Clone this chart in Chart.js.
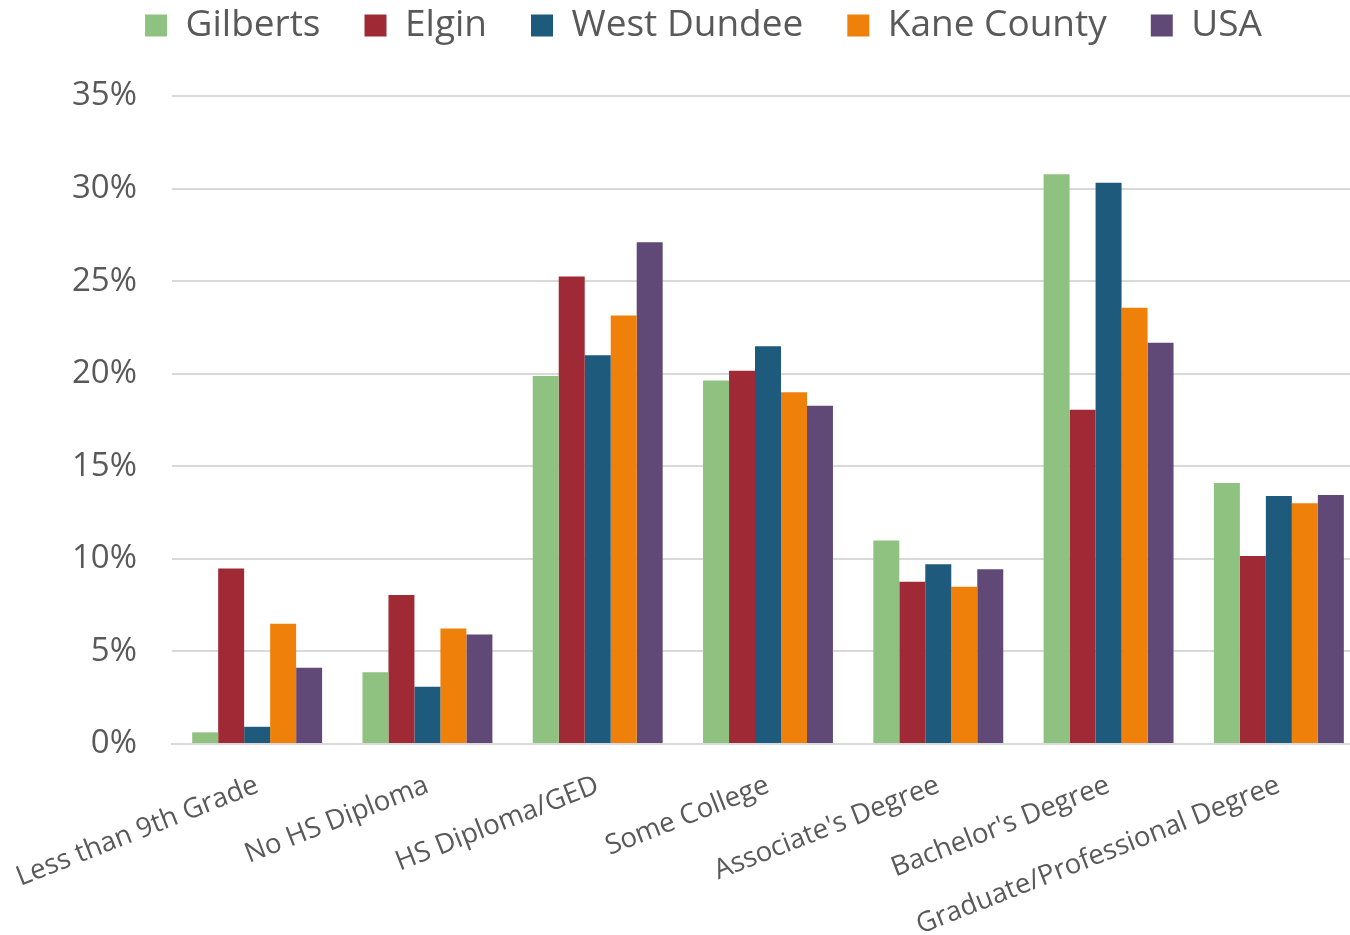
<!DOCTYPE html>
<html>
<head>
<meta charset="utf-8">
<script src="https://cdn.jsdelivr.net/npm/chart.js@4"></script>
<style>
  html, body { margin: 0; padding: 0; background: #fff; overflow: hidden; }
  .chart-box { position: relative; width: 1369px; height: 972px; margin-top: -37px; }
</style>
</head>
<body>
<div class="chart-box"><canvas class="my-chart"></canvas></div>
<script>
const categories = ['Less than 9th Grade', 'No HS Diploma', 'HS Diploma/GED', 'Some College',
  "Associate's Degree", "Bachelor's Degree", 'Graduate/Professional Degree'];

// percentages
const gilberts = [0.63, 3.87, 19.87, 19.64, 10.99, 30.78, 14.1];
const elgin = [9.48, 8.05, 25.25, 20.16, 8.76, 18.06, 10.15];
const westDundee = [0.93, 3.09, 21.0, 21.49, 9.71, 30.31, 13.4];
const kaneCounty = [6.5, 6.24, 23.15, 19.0, 8.5, 23.56, 13.0];
const usa = [4.12, 5.92, 27.1, 18.27, 9.44, 21.67, 13.45];

const seriesNames = ['Gilberts', 'Elgin', 'West Dundee', 'Kane County', 'USA'];
const seriesColors = ['#8FC180', '#A02936', '#1E5A7B', '#EF810B', '#614977'];

const yTicks = [0, 5, 10, 15, 20, 25, 30, 35];

const textColor = '#595959';
const gridColor = '#D9D9D9';

// legend keeps its own row spacing, so give it a fixed height above the plot
const legendHeight = {
  id: 'legendHeight',
  beforeInit(chart) {
    const fit = chart.legend.fit;
    chart.legend.fit = function () {
      fit.bind(chart.legend)();
      this.height = 133;
    };
  },
};

let canvas = document.querySelector('.my-chart');

let config = {
  type: 'bar',
  data: {
    labels: categories,
    datasets: [gilberts, elgin, westDundee, kaneCounty, usa].map((values, i) => ({
      label: seriesNames[i],
      data: values,
      backgroundColor: seriesColors[i],
      borderWidth: 0,
      categoryPercentage: 0.763,
      barPercentage: 1.0,
    })),
  },
  options: {
    responsive: true,
    maintainAspectRatio: false,
    animation: false,
    layout: {
      padding: { left: 43, right: 5, top: 0, bottom: 0 },
    },
    plugins: {
      tooltip: { enabled: false },
      legend: {
        position: 'top',
        labels: {
          color: textColor,
          font: { family: 'Open Sans', size: 37 },
          boxWidth: 22,
          boxHeight: 22,
          padding: 44,
        },
      },
    },
    scales: {
      x: {
        grid: { display: false },
        border: { color: gridColor, width: 2 },
        afterFit: (axis) => {
          axis.height = 191;
          axis.paddingLeft = 0;
          axis.paddingRight = 0;
        },
        ticks: {
          color: textColor,
          font: { family: 'Open Sans', size: 27.5 },
          maxRotation: 21.5,
          minRotation: 21.5,
          padding: 17,
          autoSkip: false,
        },
      },
      y: {
        min: 0,
        max: 35,
        afterBuildTicks: (axis) => {
          axis.ticks = yTicks.map(v => ({ value: v }));
        },
        afterFit: (axis) => { axis.width = 129; },
        grid: {
          color: gridColor,
          lineWidth: 2,
          drawTicks: false,
        },
        border: { display: false },
        ticks: {
          color: textColor,
          font: { family: 'Open Sans', size: 33 },
          padding: 35,
          callback: (value) => value + '%',
        },
      },
    },
  },
  plugins: [legendHeight],
};

new Chart(canvas.getContext('2d'), config);
</script>
</body>
</html>
